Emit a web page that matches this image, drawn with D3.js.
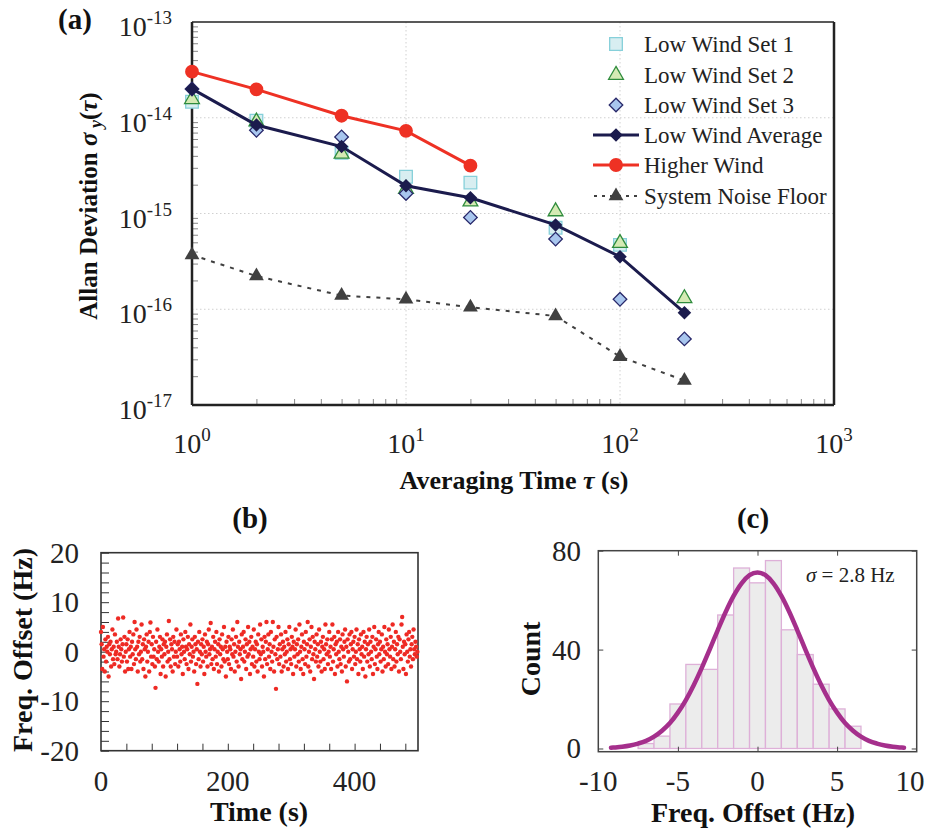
<!DOCTYPE html>
<html><head><meta charset="utf-8">
<script src="https://cdn.jsdelivr.net/npm/d3@7"></script>
<style>
body{margin:0;background:#fff;}
svg{display:block;font-family:"Liberation Serif","Times New Roman",serif;}
</style></head><body>
<svg id="c" width="928" height="832"></svg>
<script>
// ---------- Panel (a) data ----------
const tau = [1, 2, 5, 10, 20, 50, 100, 200];
const lowWindSet1 = [1.47e-14, 9.3e-15, 4.3e-15, 2.42e-15, 2.1e-15, 7.1e-16, 4.7e-16, null];
const lowWindSet2 = [1.56e-14, 9.1e-15, 4.2e-15, 1.8e-15, 1.33e-15, 1.05e-15, 4.9e-16, 1.3e-16];
const lowWindSet3 = [2.0e-14, 7.4e-15, 6.3e-15, 1.62e-15, 9.1e-16, 5.4e-16, 1.27e-16, 4.9e-17];
const lowWindAverage = [2.0e-14, 8.4e-15, 5.0e-15, 1.95e-15, 1.46e-15, 7.6e-16, 3.54e-16, 9.2e-17];
const higherWindTau = [1, 2, 5, 10, 20];
const higherWind = [3.03e-14, 1.98e-14, 1.05e-14, 7.3e-15, 3.16e-15];
const noiseFloor = [3.69e-16, 2.22e-16, 1.39e-16, 1.27e-16, 1.05e-16, 8.5e-17, 3.2e-17, 1.8e-17];
const legendLabels = ["Low Wind Set 1", "Low Wind Set 2", "Low Wind Set 3", "Low Wind Average", "Higher Wind", "System Noise Floor"];
const yExponentsA = [-13, -14, -15, -16, -17];
const xExponentsA = [0, 1, 2, 3];

// ---------- Panel (b) data: frequency offset (Hz), one point per second ----------
const freqOffset = [
 4.0, 1.5,-3.5, 5.0,-1.0, 0.5,-4.0, 2.5,-2.0, 1.0, 0.0, 3.0,-5.0, 1.5,-0.5, 2.0,-3.0, 0.5, 4.5,-1.5,
 1.0,-2.5, 3.5,-0.5, 0.0, 2.0,-1.5, 6.7, 1.0,-3.0,-0.5, 2.5, 0.5,-2.0, 1.5, 6.9,-1.0, 3.0,-4.0, 0.0,
 1.5,-2.0, 2.5,-3.5, 0.5, 4.0,-1.0, 1.0,-3.5, 2.0,-0.5, 3.5,-2.5, 6.0, 0.5,-1.5, 4.5, 1.0,-4.0, 2.0,
-0.5, 3.0,-2.0, 0.0, 5.5,-1.5, 1.5,-3.5, 2.5, 0.5,-5.0, 1.0, 3.5,-2.0, 0.0, 2.0,-4.0, 4.0, 5.9,-1.0,
 1.5,-2.5, 3.0,-1.0, 0.5,-3.0,-7.3, 2.0,-1.5, 4.5, 0.0,-2.0, 1.0, 3.0,-4.5, 0.5,-1.0, 2.5,-3.0, 1.5,
-0.5, 2.0,-5.0, 1.0, 3.5,-2.0, 0.0, 6.2,-1.5, 2.5,-3.0, 1.5, 0.5,-4.0, 3.0,-1.0, 2.0,-2.5, 0.0, 4.5,
-1.0, 1.5,-3.0, 2.0, 0.5,-2.0, 3.5,-0.5, 1.0,-4.5, 2.5, 0.0,-1.5, 4.0, 1.0,-2.5, 0.5, 3.0,-3.5, 1.5,
-0.5, 5.5,-2.0, 1.0, 2.5,-1.0, 0.0,-4.0, 3.0, 1.5,-2.5, 0.5,-6.5, 2.0,-1.5, 4.0, 0.0,-3.0, 1.5,-0.5,
 2.5,-2.0, 1.0,-4.5, 3.5, 0.0,-1.0, 2.0,-3.0, 1.5, 4.5,-0.5, 0.5, 5.8,-2.5, 1.0,-1.5, 3.0,-3.5, 0.5,
 2.0,-1.0, 4.0,-2.5, 0.0, 1.5,-4.0, 2.5,-0.5, 1.0,-3.0, 3.5, 0.5,-1.5, 5.0,-2.0, 1.0,-5.0, 2.0, 0.0,
-1.5, 3.0,-2.5, 1.0, 0.5,-3.5, 2.5,-0.5, 4.5,-1.0, 1.5,-4.0, 0.0, 3.0,-2.0, 6.0, 1.0,-3.0, 2.0,-0.5,
 0.5,-5.5, 3.5,-1.5, 1.0, 4.0,-2.0, 0.0, 2.5,-3.5, 1.5,-1.0, 5.0,-0.5, 2.0,-4.5, 0.5, 3.0,-2.5, 1.0,
-1.0, 4.5,-3.0, 0.5, 2.0,-2.0, 1.5,-4.0, 3.5, 0.0,-1.5, 5.5,-0.5, 2.5,-3.0, 1.0, 0.0,-5.0, 3.0,-1.5,
 2.0, 6.0,-2.5, 0.5, 3.5,-1.0, 1.5,-3.5, 4.0, 0.0,-2.0, 6.0, 1.0,-4.0, 2.5,-0.5,-7.5, 3.0,-1.5, 0.5,
 5.0,-2.5, 1.5,-1.0, 3.5,-4.0, 0.5, 2.0,-3.0, 1.0,-0.5, 4.0,-2.0, 0.0, 2.5,-3.5, 1.5, 5.0,-1.5, 0.5,
-2.5, 3.0, 1.0,-4.5, 2.0,-1.0, 0.5, 4.5,-3.0, 1.5,-0.5, 2.5,-2.0, 5.5, 0.0,-3.5, 1.0, 3.5,-1.5,-4.5,
 2.0, 0.5,-2.5, 4.0,-1.0, 1.5, 6.0,-3.0, 0.0, 2.5,-4.0, 1.0, 5.0,-1.5, 3.0,-0.5,-5.5, 2.0, 0.5,-2.0,
 3.5,-1.0, 1.5,-3.0, 4.5, 0.0,-2.0, 2.0,-4.0, 1.0, 3.0,-1.5, 0.5,-3.5, 5.5, 1.5,-0.5, 2.5,-2.5, 0.0,
 4.0,-1.0, 1.0,-3.5, 2.5, 5.5,-2.0, 0.5, 3.0,-4.5, 1.5,-0.5, 2.0,-3.0, 4.0, 0.0,-1.5, 2.5,-2.5, 1.0,
-4.0, 3.5, 0.5,-1.0, 2.0, 4.5,-3.0, 1.0,-6.0, 2.5, 0.0,-2.0, 3.5,-1.5, 1.5, 4.0,-3.5, 0.5, 2.0,-1.0,
 3.0,-2.5, 0.0, 4.5,-1.5, 1.5,-4.5, 2.5, 0.5,-2.0, 3.5,-0.5, 1.0,-3.5, 4.0,-1.0, 2.0,-5.0, 0.5, 3.0,
-2.0, 1.5,-0.5, 4.5,-3.0, 2.0, 0.0,-1.5, 3.0,-4.5, 1.0, 5.0,-2.5, 0.5, 2.5,-1.0,-3.5, 1.5, 4.0,-0.5,
 2.0,-2.0, 0.5, 3.5,-4.0, 1.0,-1.5, 5.0, 0.0,-3.0, 2.5,-0.5, 1.5,-2.5, 4.5, 0.5,-1.0, 3.0,-3.5, 1.0,
 5.5,-1.5, 2.0,-3.0, 0.5, 4.0,-2.0, 1.5,-0.5, 3.0,-4.0, 2.5, 0.0,-1.5, 5.5, 7.0, 1.0,-3.5, 2.0,-0.5,
 1.5,-4.5, 3.5, 0.0,-2.0, 2.5, 4.0,-1.0, 0.5,-3.0, 1.5, 3.0,-1.5, 4.5, 0.5,-0.5, 2.0, 1.0,-1.0, 0.0
];
const yTicksB = [20, 10, 0, -10, -20];
const xTicksB = [0, 200, 400];

// ---------- Panel (c) data ----------
const histCenters = [-9,-8,-7,-6,-5,-4,-3,-2,-1,0,1,2,3,4,5,6,7,8,9];
const histCounts  = [ 0, 0, 2, 5,18,34,32,54,73,67,76,48,38,26,16, 9, 0, 0, 0];
const fitX = [-9.2,-9,-8.5,-8,-7.5,-7,-6.5,-6,-5.5,-5,-4.5,-4,-3.5,-3,-2.5,-2,-1.5,-1,-0.5,0,0.5,1,1.5,2,2.5,3,3.5,4,4.5,5,5.5,6,6.5,7,7.5,8,8.5,9,9.2];
const fitY = [0.3,0.4,0.7,1.2,2.0,3.1,4.8,7.2,10.3,14.5,19.6,25.7,32.6,40.1,47.8,55.2,61.7,66.8,70.1,71.2,70.1,66.8,61.7,55.2,47.8,40.1,32.6,25.7,19.6,14.5,10.3,7.2,4.8,3.1,2.0,1.2,0.7,0.4,0.3];
const yTicksC = [0, 40, 80];
const xTicksC = [-10, -5, 0, 5, 10];

// ======================================================
const svg = d3.select("#c");

// ---------------- Panel (a) ----------------
const xA = d3.scaleLog().domain([1, 1000]).range([192, 834]);
const yA = d3.scaleLog().domain([1e-17, 1e-13]).range([405, 22]);
const gA = svg.append("g");

// grid (dotted) at decades
gA.selectAll(".hg").data([1e-14, 1e-15, 1e-16]).join("line")
  .attr("x1", 192).attr("x2", 834).attr("y1", d => yA(d)).attr("y2", d => yA(d))
  .attr("stroke", "#d0d0d0").attr("stroke-width", 1).attr("stroke-dasharray", "1.5,2.5");
gA.selectAll(".vg").data([10, 100]).join("line")
  .attr("y1", 22).attr("y2", 405).attr("x1", d => xA(d)).attr("x2", d => xA(d))
  .attr("stroke", "#d0d0d0").attr("stroke-width", 1).attr("stroke-dasharray", "1.5,2.5");

// minor ticks via axes (inward)
const xMinor = [];
for (let e = 0; e < 3; e++) for (let m = 2; m <= 9; m++) xMinor.push(m * Math.pow(10, e));
const yMinor = [];
for (let e = -17; e < -13; e++) for (let m = 2; m <= 9; m++) yMinor.push(m * Math.pow(10, e));
gA.append("g").attr("transform", "translate(0,405)")
  .call(d3.axisBottom(xA).tickValues(xMinor).tickSize(-6).tickFormat(""))
  .call(g => { g.select(".domain").remove(); g.selectAll("line").attr("stroke", "#888"); });
gA.append("g").attr("transform", "translate(192,0)")
  .call(d3.axisLeft(yA).tickValues(yMinor).tickSize(-6).tickFormat(""))
  .call(g => { g.select(".domain").remove(); g.selectAll("line").attr("stroke", "#888"); });

// frame
gA.append("line").attr("x1", 192).attr("x2", 834).attr("y1", 22).attr("y2", 22).attr("stroke", "#222").attr("stroke-width", 1.5);
gA.append("line").attr("x1", 834).attr("x2", 834).attr("y1", 22).attr("y2", 405).attr("stroke", "#222").attr("stroke-width", 2.5);
gA.append("line").attr("x1", 192).attr("x2", 834).attr("y1", 405).attr("y2", 405).attr("stroke", "#222").attr("stroke-width", 2.5);
gA.append("line").attr("x1", 192).attr("x2", 192).attr("y1", 22).attr("y2", 405).attr("stroke", "#222").attr("stroke-width", 2.5);

// y tick labels
yExponentsA.forEach(e => {
  const t = gA.append("text").attr("x", 172).attr("y", yA(Math.pow(10, e)) + 14)
    .attr("text-anchor", "end").attr("fill", "#222");
  t.append("tspan").attr("font-size", 28).text("10");
  t.append("tspan").attr("font-size", 19).attr("dy", -12).text(e);
});
// x tick labels
xExponentsA.forEach(e => {
  const t = gA.append("text").attr("x", xA(Math.pow(10, e))).attr("y", 453)
    .attr("text-anchor", "middle").attr("fill", "#222");
  t.append("tspan").attr("font-size", 28).text("10");
  t.append("tspan").attr("font-size", 19).attr("dy", -12).text(e);
});

// axis titles
const yt = gA.append("text").attr("transform", "translate(97,206) rotate(-90)")
  .attr("text-anchor", "middle").attr("font-weight", "bold").attr("font-size", 25).attr("fill", "#111");
yt.append("tspan").text("Allan Deviation ");
yt.append("tspan").attr("font-style", "italic").text("σ");
yt.append("tspan").attr("font-style", "italic").attr("font-size", 18).attr("dy", 5).text(" y");
yt.append("tspan").attr("dy", -5).text("(");
yt.append("tspan").attr("font-style", "italic").text("τ");
yt.append("tspan").text(")");
const xt = gA.append("text").attr("x", 514).attr("y", 489)
  .attr("text-anchor", "middle").attr("font-weight", "bold").attr("font-size", 26).attr("fill", "#111");
xt.append("tspan").text("Averaging Time ");
xt.append("tspan").attr("font-style", "italic").text("τ");
xt.append("tspan").text("  (s)");
gA.append("text").attr("x", 58).attr("y", 29).attr("font-weight", "bold").attr("font-size", 29).attr("fill", "#111").text("(a)");

// symbols
const sq = d3.symbol().type(d3.symbolSquare).size(160);
const tri = d3.symbol().type(d3.symbolTriangle).size(95);
const dia = d3.symbol().type(d3.symbolSquare).size(92);
const circ = d3.symbol().type(d3.symbolCircle).size(150);

const pts = (vals, xs) => vals.map((v, i) => ({ x: xs[i], y: v })).filter(d => d.y != null);
const lineA = d3.line().x(d => xA(d.x)).y(d => yA(d.y));

const colNavy = "#1b1b4d", colRed = "#ee3124", colGray = "#404040";
const set1Style = { fill: "#d8eef1", stroke: "#86d0da" };
const set2Style = { fill: "#d5eab4", stroke: "#2f8c3d" };
const set3Style = { fill: "#a8c6ee", stroke: "#28286a" };

// noise floor
gA.append("path").datum(pts(noiseFloor, tau)).attr("d", lineA)
  .attr("fill", "none").attr("stroke", colGray).attr("stroke-width", 2).attr("stroke-dasharray", "4,6");
gA.selectAll(".nf").data(pts(noiseFloor, tau)).join("path")
  .attr("d", tri).attr("transform", d => `translate(${xA(d.x)},${yA(d.y)})`).attr("fill", colGray);

// sets
gA.selectAll(".s1").data(pts(lowWindSet1, tau)).join("path")
  .attr("d", sq).attr("transform", d => `translate(${xA(d.x)},${yA(d.y)})`)
  .attr("fill", set1Style.fill).attr("stroke", set1Style.stroke).attr("stroke-width", 1.3);
gA.selectAll(".s2").data(pts(lowWindSet2, tau)).join("path")
  .attr("d", tri).attr("transform", d => `translate(${xA(d.x)},${yA(d.y)})`)
  .attr("fill", set2Style.fill).attr("stroke", set2Style.stroke).attr("stroke-width", 1.3);
gA.selectAll(".s3").data(pts(lowWindSet3, tau)).join("path")
  .attr("d", dia).attr("transform", d => `translate(${xA(d.x)},${yA(d.y)}) rotate(45)`)
  .attr("fill", set3Style.fill).attr("stroke", set3Style.stroke).attr("stroke-width", 1.3);

// average
gA.append("path").datum(pts(lowWindAverage, tau)).attr("d", lineA)
  .attr("fill", "none").attr("stroke", colNavy).attr("stroke-width", 3);
gA.selectAll(".av").data(pts(lowWindAverage, tau)).join("path")
  .attr("d", dia).attr("transform", d => `translate(${xA(d.x)},${yA(d.y)}) rotate(45)`).attr("fill", colNavy);

// higher wind
gA.append("path").datum(pts(higherWind, higherWindTau)).attr("d", lineA)
  .attr("fill", "none").attr("stroke", colRed).attr("stroke-width", 3);
gA.selectAll(".hw").data(pts(higherWind, higherWindTau)).join("path")
  .attr("d", circ).attr("transform", d => `translate(${xA(d.x)},${yA(d.y)})`).attr("fill", colRed);

// legend
const legY = [44, 75, 105, 135, 165, 196];
const legMarkX = 616, legTextX = 644;
const lg = gA.append("g");
legendLabels.forEach((lab, i) => {
  const cy = legY[i];
  if (i === 0) lg.append("path").attr("d", sq).attr("transform", `translate(${legMarkX},${cy})`).attr("fill", set1Style.fill).attr("stroke", set1Style.stroke).attr("stroke-width", 1.3);
  if (i === 1) lg.append("path").attr("d", tri).attr("transform", `translate(${legMarkX},${cy})`).attr("fill", set2Style.fill).attr("stroke", set2Style.stroke).attr("stroke-width", 1.3);
  if (i === 2) lg.append("path").attr("d", dia).attr("transform", `translate(${legMarkX},${cy}) rotate(45)`).attr("fill", set3Style.fill).attr("stroke", set3Style.stroke).attr("stroke-width", 1.3);
  if (i === 3) {
    lg.append("line").attr("x1", 593).attr("x2", 639).attr("y1", cy).attr("y2", cy).attr("stroke", colNavy).attr("stroke-width", 3);
    lg.append("path").attr("d", dia).attr("transform", `translate(${legMarkX},${cy}) rotate(45)`).attr("fill", colNavy);
  }
  if (i === 4) {
    lg.append("line").attr("x1", 593).attr("x2", 639).attr("y1", cy).attr("y2", cy).attr("stroke", colRed).attr("stroke-width", 3);
    lg.append("path").attr("d", circ).attr("transform", `translate(${legMarkX},${cy})`).attr("fill", colRed);
  }
  if (i === 5) {
    lg.append("line").attr("x1", 594).attr("x2", 640).attr("y1", cy).attr("y2", cy).attr("stroke", colGray).attr("stroke-width", 2).attr("stroke-dasharray", "3,5");
    lg.append("path").attr("d", tri).attr("transform", `translate(${legMarkX},${cy})`).attr("fill", colGray);
  }
  lg.append("text").attr("x", legTextX).attr("y", cy + 8).attr("font-size", 23).attr("fill", "#222").text(lab);
});

// ---------------- Panel (b) ----------------
const xB = d3.scaleLinear().domain([0, 500]).range([101, 418]);
const yB = d3.scaleLinear().domain([-20, 20]).range([750.7, 552.7]);
const gB = svg.append("g");
gB.append("g").attr("transform", "translate(101,0)")
  .call(d3.axisLeft(yB).tickValues(d3.range(-20, 21, 2)).tickSize(-8).tickFormat(""))
  .call(g => { g.select(".domain").remove(); g.selectAll("line").attr("stroke", "#333"); });
gB.append("g").attr("transform", "translate(0,750.7)")
  .call(d3.axisBottom(xB).tickValues(d3.range(40, 500, 40)).tickSize(-7).tickFormat(""))
  .call(g => { g.select(".domain").remove(); g.selectAll("line").attr("stroke", "#333"); });
gB.append("rect").attr("x", 101).attr("y", 552.7).attr("width", 317).attr("height", 198)
  .attr("fill", "none").attr("stroke", "#333").attr("stroke-width", 1.6);
gB.selectAll(".pt").data(freqOffset).join("circle")
  .attr("cx", (d, i) => xB(i)).attr("cy", d => yB(d)).attr("r", 2.2).attr("fill", "#ee2a24");
gB.selectAll(".yl").data(yTicksB).join("text")
  .attr("x", 79).attr("y", d => yB(d) + 10).attr("text-anchor", "end").attr("font-size", 29).attr("fill", "#222").text(d => d);
gB.selectAll(".xl").data(xTicksB).join("text")
  .attr("x", d => xB(d)).attr("y", 791).attr("text-anchor", "middle").attr("font-size", 29).attr("fill", "#222").text(d => d);
gB.append("text").attr("x", 259).attr("y", 821).attr("text-anchor", "middle").attr("font-weight", "bold").attr("font-size", 28).attr("fill", "#111").text("Time (s)");
gB.append("text").attr("transform", "translate(32,650) rotate(-90)").attr("text-anchor", "middle").attr("font-weight", "bold").attr("font-size", 28).attr("fill", "#111").text("Freq. Offset (Hz)");
gB.append("text").attr("x", 250).attr("y", 528).attr("text-anchor", "middle").attr("font-weight", "bold").attr("font-size", 29).attr("fill", "#111").text("(b)");

// ---------------- Panel (c) ----------------
const xC = d3.scaleLinear().domain([-10, 10]).range([598.3, 916.7]);
const yC = d3.scaleLinear().domain([-1.3, 80]).range([751.7, 550.7]);
const gC = svg.append("g");
gC.selectAll(".bar").data(histCenters.map((c, i) => ({ c, n: histCounts[i] }))).join("rect")
  .attr("x", d => xC(d.c - 0.5)).attr("width", d => xC(d.c + 0.5) - xC(d.c - 0.5))
  .attr("y", d => yC(d.n)).attr("height", d => yC(0) - yC(d.n))
  .attr("fill", "#ececec").attr("stroke", "#deb0d8").attr("stroke-width", 1.3);
const lineC = d3.line().x(d => xC(d[0])).y(d => yC(d[1])).curve(d3.curveMonotoneX);
gC.append("path").datum(fitX.map((x, i) => [x, fitY[i]])).attr("d", lineC)
  .attr("fill", "none").attr("stroke", "#a52f8c").attr("stroke-width", 4.5).attr("stroke-linecap", "round");
// frame + mirrored ticks
gC.append("rect").attr("x", 598.3).attr("y", 550.7).attr("width", 318.4).attr("height", 201)
  .attr("fill", "none").attr("stroke", "#444").attr("stroke-width", 1.5);
gC.append("g").attr("transform", "translate(598.3,0)")
  .call(d3.axisLeft(yC).tickValues(yTicksC).tickSize(-5).tickFormat(""))
  .call(g => { g.select(".domain").remove(); g.selectAll("line").attr("stroke", "#444"); });
gC.append("g").attr("transform", "translate(916.7,0)")
  .call(d3.axisRight(yC).tickValues(yTicksC).tickSize(-5).tickFormat(""))
  .call(g => { g.select(".domain").remove(); g.selectAll("line").attr("stroke", "#444"); });
gC.append("g").attr("transform", "translate(0,751.7)")
  .call(d3.axisBottom(xC).tickValues([-5, 0, 5]).tickSize(-5).tickFormat(""))
  .call(g => { g.select(".domain").remove(); g.selectAll("line").attr("stroke", "#444"); });
gC.append("g").attr("transform", "translate(0,550.7)")
  .call(d3.axisTop(xC).tickValues([-5, 0, 5]).tickSize(-5).tickFormat(""))
  .call(g => { g.select(".domain").remove(); g.selectAll("line").attr("stroke", "#444"); });
gC.selectAll(".yl").data(yTicksC).join("text")
  .attr("x", 581).attr("y", d => yC(d) + 10).attr("text-anchor", "end").attr("font-size", 29).attr("fill", "#222").text(d => d);
gC.selectAll(".xl").data(xTicksC).join("text")
  .attr("x", d => Math.min(xC(d), 910)).attr("y", 791).attr("text-anchor", "middle").attr("font-size", 29).attr("fill", "#222").text(d => d);
gC.append("text").attr("x", 753).attr("y", 822).attr("text-anchor", "middle").attr("font-weight", "bold").attr("font-size", 28).attr("fill", "#111").text("Freq. Offset (Hz)");
gC.append("text").attr("transform", "translate(540,659) rotate(-90)").attr("text-anchor", "middle").attr("font-weight", "bold").attr("font-size", 28).attr("fill", "#111").text("Count");
gC.append("text").attr("x", 753).attr("y", 528).attr("text-anchor", "middle").attr("font-weight", "bold").attr("font-size", 29).attr("fill", "#111").text("(c)");
const ann = gC.append("text").attr("x", 806).attr("y", 582).attr("font-size", 21).attr("fill", "#222");
ann.append("tspan").attr("font-style", "italic").text("σ");
ann.append("tspan").text(" = 2.8 Hz");
</script>
</body></html>
